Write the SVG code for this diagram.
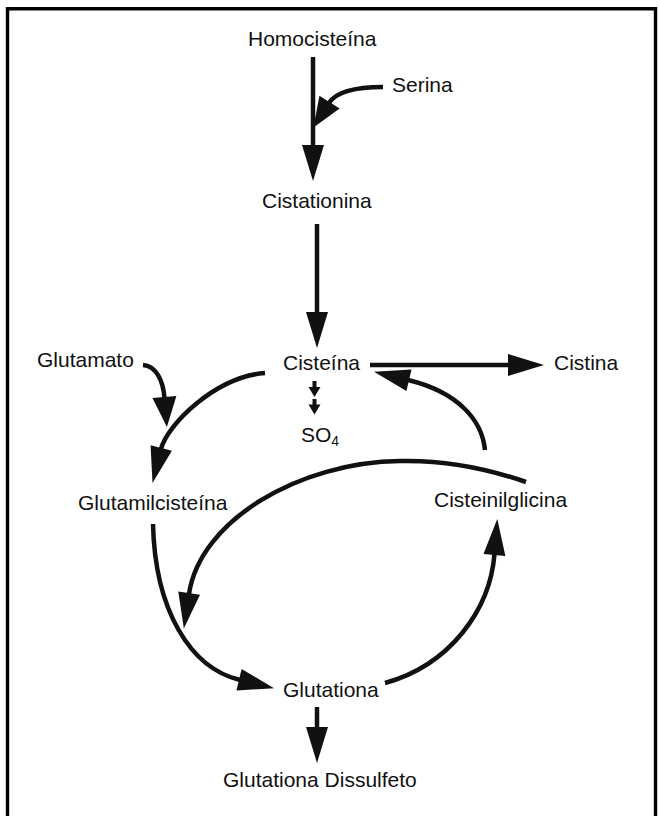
<svg xmlns="http://www.w3.org/2000/svg" width="660" height="816" viewBox="0 0 660 816">
<defs>
<style>
.t{font-family:"Liberation Sans",Arial,sans-serif;font-size:21px;fill:#111}
.c{fill:none;stroke:#111;stroke-width:4.5}
.cs{fill:none;stroke:#111;stroke-width:4}
</style>
<marker id="ah" markerUnits="userSpaceOnUse" markerWidth="38" markerHeight="24" refX="1" refY="11" orient="auto" overflow="visible">
<path d="M0,0 L36,11 L0,22 z" fill="#111"/>
</marker>
<marker id="ahm" markerUnits="userSpaceOnUse" markerWidth="32" markerHeight="24" refX="1" refY="12" orient="auto" overflow="visible">
<path d="M0,0 L30,12 L0,24 z" fill="#111"/>
</marker>
<marker id="ahs" markerUnits="userSpaceOnUse" markerWidth="12" markerHeight="14" refX="0.5" refY="6" orient="auto" overflow="visible">
<path d="M0,0 L10,6 L0,12 z" fill="#111"/>
</marker>
</defs>
<rect width="660" height="816" fill="#fff"/>
<path d="M7.5,816 V8.8 H655.5 V816" fill="none" stroke="#000" stroke-width="3.4"/>

<g id="connectors">
<path class="c" d="M313,57 L313,146" marker-end="url(#ah)"/>
<path class="c" d="M383,87 C356,87 336,92 329,103" marker-end="url(#ahm)"/>
<path class="c" d="M317,224 L317,313" marker-end="url(#ah)"/>
<path class="c" d="M370,365 L509,365" marker-end="url(#ah)"/>
<path class="c" d="M485,450 C482,420 458,392 408,380" marker-end="url(#ah)"/>
<path class="c" d="M143,365 C156,366 163,380 164.5,398" marker-end="url(#ahm)"/>
<path class="c" d="M265,373 C215,377 167,425 161,449" marker-end="url(#ah)"/>
<path class="c" d="M526,482 C480,466 440,460 400,461 C300,462 200,520 189,594" marker-end="url(#ah)"/>
<path class="c" d="M153,524 C155,610 190,668 240,680" marker-end="url(#ah)"/>
<path class="c" d="M385,683 C450,665 490,610 494.5,554" marker-end="url(#ah)"/>
<path class="c" d="M317,707 L317,728" marker-end="url(#ah)"/>
<path class="cs" d="M314.5,381 L314.5,387.5" marker-end="url(#ahs)"/>
<path class="cs" d="M314.5,399 L314.5,405" marker-end="url(#ahs)"/>
</g>

<g id="homocisteina"><text class="t" x="248" y="46">Homocisteína</text></g>
<g id="serina"><text class="t" x="392" y="92">Serina</text></g>
<g id="cistationina"><text class="t" x="262" y="208">Cistationina</text></g>
<g id="glutamato"><text class="t" x="37" y="367">Glutamato</text></g>
<g id="cisteina"><text class="t" x="283" y="370">Cisteína</text></g>
<g id="cistina"><text class="t" x="554" y="370">Cistina</text></g>
<g id="so4"><text class="t" x="301" y="442">SO<tspan font-size="14" dy="4">4</tspan></text></g>
<g id="glutamilcisteina"><text class="t" x="78" y="510">Glutamilcisteína</text></g>
<g id="cisteinilglicina"><text class="t" x="434" y="507">Cisteinilglicina</text></g>
<g id="glutationa"><text class="t" x="283" y="697">Glutationa</text></g>
<g id="glutationa-dissulfeto"><text class="t" x="223" y="787">Glutationa Dissulfeto</text></g>
</svg>
